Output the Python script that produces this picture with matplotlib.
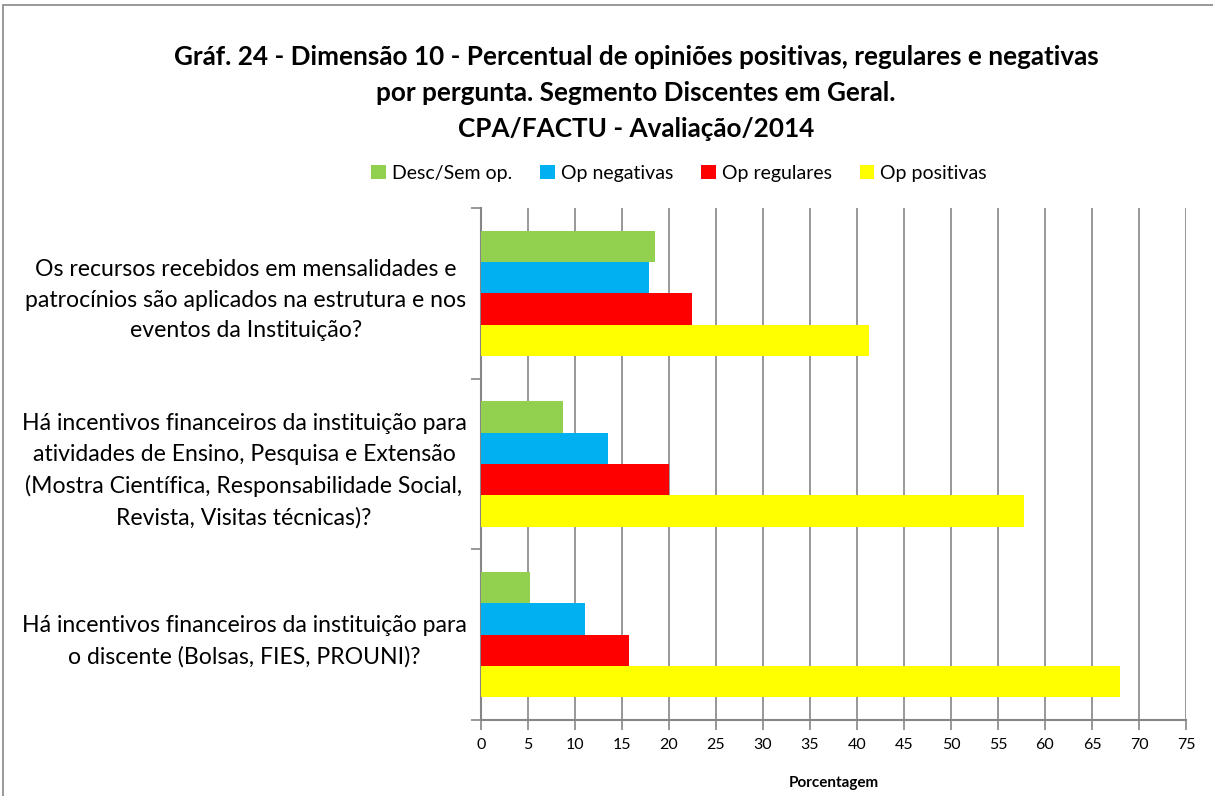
import matplotlib
matplotlib.use("Agg")
import matplotlib.pyplot as plt
from matplotlib.patches import Rectangle
import numpy as np

plt.rcParams['font.family'] = ['Lato', 'DejaVu Sans']

categories = [
    "Os recursos recebidos em mensalidades e\npatrocínios são aplicados na estrutura e nos\neventos da Instituição?",
    "Há incentivos financeiros da instituição para\natividades de Ensino, Pesquisa e Extensão\n(Mostra Científica, Responsabilidade Social,\nRevista, Visitas técnicas)?",
    "Há incentivos financeiros da instituição para\no discente (Bolsas, FIES, PROUNI)?",
]
series_names = ["Desc/Sem op.", "Op negativas", "Op regulares", "Op positivas"]
desc_sem_op = [18.5, 8.7, 5.2]
op_negativas = [17.9, 13.5, 11.1]
op_regulares = [22.4, 20.0, 15.7]
op_positivas = [41.3, 57.8, 68.0]
colors = ["#92D050", "#00B0F0", "#FF0000", "#FFFF00"]
xticks = list(range(0, 80, 5))

title = ("Gráf. 24 - Dimensão 10 - Percentual de opiniões positivas, regulares e negativas\n"
         "por pergunta. Segmento Discentes em Geral.\n"
         "CPA/FACTU - Avaliação/2014")

fig = plt.figure(figsize=(12.13, 7.96), dpi=100)
ax = fig.add_axes([481/1213, 1-720/796, (1186-481)/1213, (720-208)/796])

vals = [desc_sem_op, op_negativas, op_regulares, op_positivas]
bh = 0.184
y = np.arange(len(categories))
for i, (name, v, c) in enumerate(zip(series_names, vals, colors)):
    ax.barh(y + (i - 1.5) * bh, v, height=bh, color=c, label=name, zorder=3)

ax.set_xlim(0, 75)
ax.set_ylim(2.5, -0.5)
ax.set_xticks(xticks)
ax.set_xticklabels([str(t) for t in xticks], fontsize=11.5)
ax.set_yticks(y)
ax.set_yticklabels(categories, fontsize=16.6, linespacing=1.56, multialignment='center')
ax.tick_params(axis='y', which='major', length=0, pad=10.5)
ax.set_yticks([-0.5, 0.5, 1.5, 2.5], minor=True)
ax.tick_params(axis='y', which='minor', length=7, color='#868686', width=1.2)
ax.tick_params(axis='x', length=7, color='#868686', width=1.2, pad=6)
ax.grid(axis='x', color='#868686', linewidth=1.2, zorder=0)
for s in ['top', 'right']:
    ax.spines[s].set_visible(False)
for s in ['left', 'bottom']:
    ax.spines[s].set_color('#868686')
    ax.spines[s].set_linewidth(1.5)
ax.set_xlabel("Porcentagem", fontsize=11, fontweight='bold', labelpad=17)

fig.text(636/1213, 1-93/796, title, ha='center', va='center', fontsize=18.8,
         fontweight='bold', linespacing=1.62)

leg = fig.legend(loc='center', bbox_to_anchor=(679/1213, 1-173/796), ncol=4,
                 frameon=False, fontsize=14, handlelength=0.75, handleheight=0.75,
                 handletextpad=0.3, columnspacing=1.45)

fig.add_artist(Rectangle((3/1213, -0.1), 1.2, 1.1-5/796, transform=fig.transFigure,
                         fill=False, edgecolor='#868686', linewidth=1.2))

fig.savefig("out.png", dpi=100)
